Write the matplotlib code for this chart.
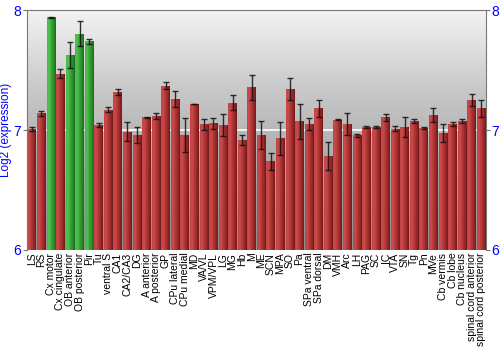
import numpy as np
import matplotlib
matplotlib.use("Agg")
import matplotlib.pyplot as plt
from matplotlib.colors import LinearSegmentedColormap

plt.rcParams["font.family"] = ["Liberation Sans", "DejaVu Sans"]

categories = ["LS", "RS", "Cx motor", "Cx cingulate", "OB anterior", "OB posterior", "Pir",
              "Tu", "ventral S", "CA1", "CA2/CA3", "DG", "A anterior", "A posterior", "GP",
              "CPu lateral", "CPu medial", "MD", "VA/VL", "VPM/VPL", "LG", "MG", "Hb", "M",
              "ME", "SCN", "MPA", "SO", "Pa", "SPa ventral", "SPa dorsal", "DM", "VMH", "Arc",
              "LH", "PAG", "SC", "IC", "VTA", "SN", "Tg", "Pn", "MVe", "Cb vermis", "Cb lobe",
              "Cb nucleus", "spinal cord anterior", "spinal cord posterior"]
values = [7.01, 7.14, 7.94, 7.47, 7.625, 7.805, 7.74,
          7.044, 7.17, 7.317, 6.986, 6.958, 7.106, 7.117, 7.37,
          7.258, 6.96, 7.217, 7.047, 7.056, 7.042, 7.228, 6.92, 7.356,
          6.958, 6.739, 6.93, 7.339, 7.075, 7.053, 7.18, 6.78, 7.086, 7.05,
          6.956, 7.028, 7.028, 7.106, 7.011, 7.028, 7.072, 7.017, 7.122, 6.975, 7.05,
          7.075, 7.25, 7.18]
errors = [0.014, 0.02, 0.005, 0.035, 0.11, 0.105, 0.02,
          0.017, 0.022, 0.028, 0.078, 0.068, 0.004, 0.022, 0.03,
          0.064, 0.14, 0.003, 0.047, 0.044, 0.093, 0.064, 0.042, 0.106,
          0.12, 0.07, 0.135, 0.092, 0.146, 0.05, 0.072, 0.117, 0.003, 0.093,
          0.014, 0.008, 0.008, 0.03, 0.022, 0.083, 0.017, 0.008, 0.058, 0.078, 0.017,
          0.02, 0.049, 0.07]
highlight = ["Cx motor", "OB anterior", "OB posterior", "Pir"]
yticks = [6, 7, 8]

fig = plt.figure(figsize=(5, 3.5), dpi=100)
ax = fig.add_axes([0.054, 0.286, 0.918, 0.685])

n = len(categories)
x = np.arange(n)
ax.set_xlim(-0.5, n - 0.5)
ax.set_ylim(6, 8)

# background gradient (light at top, darker at bottom)
bg = LinearSegmentedColormap.from_list("bg", ["#f3f3f3", "#c8c8c8", "#a8a8a8", "#8e8e8e"])
grad = np.linspace(0, 1, 256).reshape(-1, 1)
ax.imshow(grad, cmap=bg, aspect="auto", extent=(-0.5, n - 0.5, 6, 8), zorder=0)
ax.axhline(7, color="white", lw=1.2, zorder=1)

red_cm = LinearSegmentedColormap.from_list("r", ["#c24444", "#c84c4c", "#b23636", "#9a2828", "#6e1a1a"])
green_cm = LinearSegmentedColormap.from_list("g", ["#48b848", "#50c050", "#36a436", "#2a8c2a", "#1c6c1c"])
hgrad = np.linspace(0, 1, 64).reshape(1, -1)

colors = ["#2ea02e" if c in highlight else "#aa3030" for c in categories]
bars = ax.bar(x, np.array(values) - 6, bottom=6, width=0.92, color=colors, zorder=2, linewidth=0)
for b, c in zip(bars, categories):
    cm = green_cm if c in highlight else red_cm
    x0 = b.get_x()
    w = b.get_width()
    top = b.get_y() + b.get_height()
    im = ax.imshow(hgrad, cmap=cm, aspect="auto", extent=(x0, x0 + w, 6, top), zorder=2.5)
    im.set_clip_path(b)
ax.errorbar(x, values, yerr=errors, fmt="none", ecolor="#111111", elinewidth=1, capsize=2,
            capthick=1, zorder=3, alpha=0.85)

ax.set_xticks(x)
ax.set_xticklabels(categories, rotation=90, fontsize=7.5)
ax.tick_params(axis="x", length=0, pad=2)
ax.set_yticks(yticks)
ax.set_yticklabels([str(t) for t in yticks], color="blue", fontsize=10)
ax.tick_params(axis="y", length=3, color="#777777", labelcolor="blue", right=True, labelright=True,
               pad=1)
ax.set_ylabel("Log2 (expression)", color="blue", fontsize=8.5)
ax.yaxis.set_label_coords(-0.032, 0.5)
for s in ["left", "right", "top"]:
    ax.spines[s].set_color("#777777")
ax.spines["bottom"].set_visible(False)

fig.savefig("out.png", dpi=100)
